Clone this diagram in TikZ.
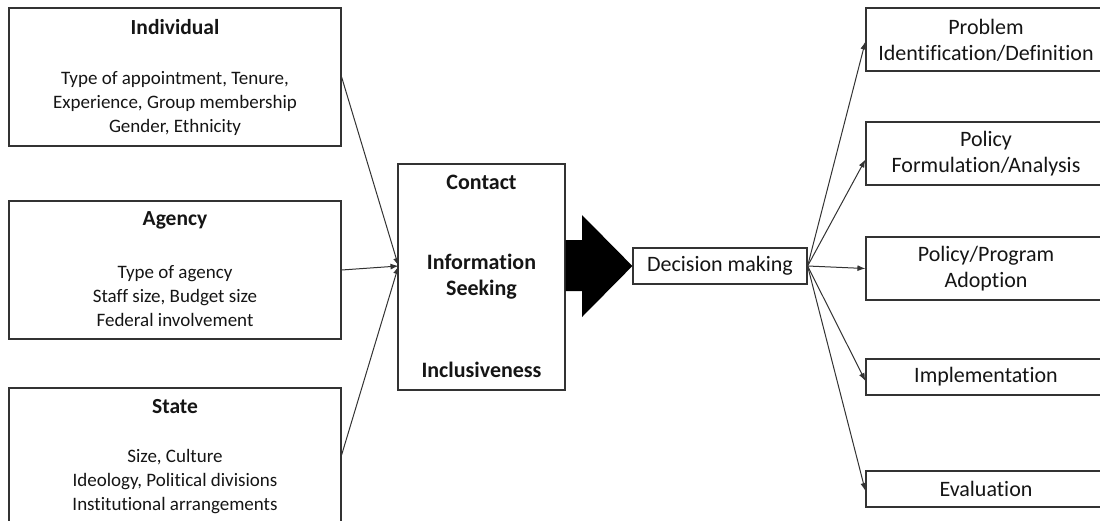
\documentclass[tikz,border=0pt]{standalone}
\usepackage{fontspec}
\setmainfont{Carlito}[Ligatures=CommonOff]
\usetikzlibrary{arrows.meta,calc}
\definecolor{edge}{HTML}{333333}
\definecolor{ink}{HTML}{151515}
\begin{document}
\begin{tikzpicture}[x=1pt,y=-1pt,
  box/.style={draw=edge,line width=1.2pt,rectangle,inner sep=0pt},
  title/.style={font=\fontsize{21.5}{26}\selectfont\bfseries,text=ink},
  body/.style={font=\fontsize{19}{24}\selectfont,text=ink,align=center},
  mid/.style={font=\fontsize{22}{26}\selectfont\bfseries,text=ink,align=center},
  stage/.style={font=\fontsize{22}{26}\selectfont,text=ink,align=center},
  link/.style={draw=edge,line width=1pt,-{Latex[length=8pt,width=6pt]}}]
\useasboundingbox (0,0) rectangle (1100,520);
\clip (0,0) rectangle (1100,520);

% factor boxes on the left
\node[box,minimum width=332pt,minimum height=138pt] (ind) at (175,77) {};
\node[title] (indT) at (175,27) {Individual};
\node[body] (indB) at (175,103) {Type of appointment, Tenure,\\Experience, Group membership\\Gender, Ethnicity};

\node[box,minimum width=332pt,minimum height=138pt] (age) at (175,270) {};
\node[title] (ageT) at (175,220) {Agency};
\node[body] (ageB) at (175,296) {Type of agency\\Staff size, Budget size\\Federal involvement};

\node[box,minimum width=332pt,minimum height=134pt] (sta) at (175,455) {};
\node[title] (staT) at (175,407) {State};
\node[body] (staB) at (175,482) {Size, Culture\\Ideology, Political divisions\\Institutional arrangements};

% central box
\node[box,minimum width=167pt,minimum height=226pt] (ctr) at (481.5,277) {};
\node[mid] (ctrA) at (481.5,182) {Contact};
\node[mid] (ctrB) at (481.5,277) {Information\\Seeking};
\node[mid] (ctrC) at (481.5,370) {Inclusiveness};
\coordinate (hub) at (398.5,266);

% decision box
\node[box,minimum width=174pt,minimum height=36pt] (dec) at (720,266) {};
\node[stage] (decT) at (720,266) {Decision making};

% big block arrow
\fill[black] (ctr.east |- 0,240) -- (582,240) -- (582,215) -- (dec.west)
  -- (582,317) -- (582,291) -- (ctr.east |- 0,291) -- cycle;

% stages on the right
\node[box,minimum width=244pt,minimum height=63pt] (s1) at (988,39.5) {};
\node[stage] (s1T) at (986,40) {Problem\\Identification/Definition};
\node[box,minimum width=244pt,minimum height=63pt] (s2) at (988,153.5) {};
\node[stage] (s2T) at (986,154) {Policy\\Formulation/Analysis};
\node[box,minimum width=244pt,minimum height=63pt] (s3) at (988,268.5) {};
\node[stage] (s3T) at (986,269) {Policy/Program\\Adoption};
\node[box,minimum width=244pt,minimum height=36pt] (s4) at (988,377) {};
\node[stage] (s4T) at (986,377) {Implementation};
\node[box,minimum width=244pt,minimum height=36pt] (s5) at (988,489) {};
\node[stage] (s5T) at (986,489) {Evaluation};

% connectors into the central box
\draw[link] (ind.east) -- (hub);
\draw[link] (age.east) -- (hub);
\draw[link] (sta.east) -- (hub);

% connectors out of decision making
\draw[link] (dec.east) -- ([yshift=-2pt]s1.west);
\draw[link] (dec.east) -- ([yshift=-6pt]s2.west);
\draw[link] (dec.east) -- (s3.west);
\draw[link] (dec.east) -- ([yshift=-4pt]s4.west);
\draw[link] (dec.east) -- ([yshift=-2pt]s5.west);
\end{tikzpicture}
\end{document}
